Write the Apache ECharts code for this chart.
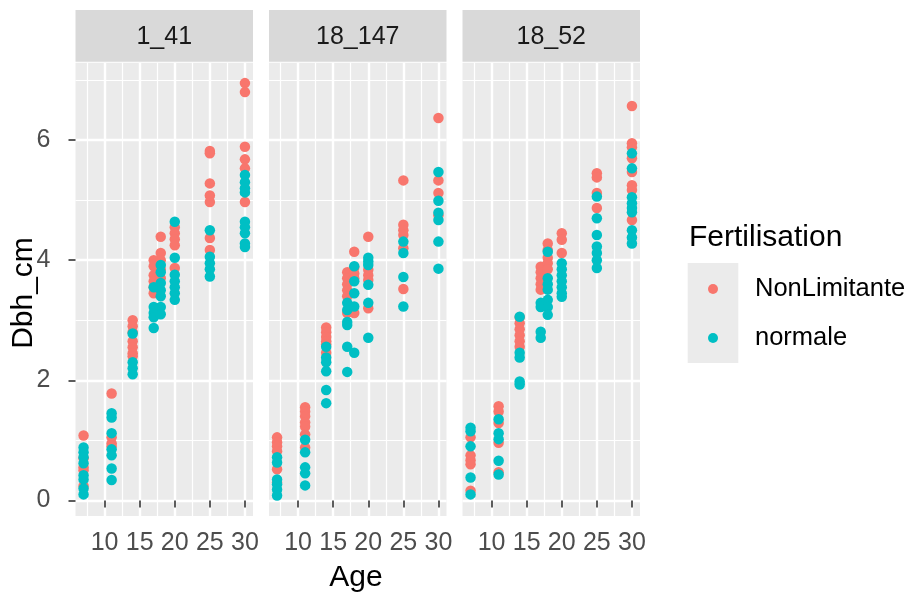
<!DOCTYPE html>
<html><head><meta charset="utf-8">
<script src="https://cdn.jsdelivr.net/npm/echarts@6/dist/echarts.min.js"></script>
<style>html,body{margin:0;padding:0;background:#fff}#c{width:906px;height:598px}</style>
</head><body><div id="c"></div>
<script>
const panels = ['1_41', '18_147', '18_52'];
const groups = ['NonLimitante', 'normale'];
const colors = ['#F8766D', '#00BFC4'];
const ages = [7, 11, 14, 17, 18, 20, 25, 30];
const xTicks = [10, 15, 20, 25, 30];
const xMinor = [7.5, 12.5, 17.5, 22.5, 27.5];
const yTicks = [0, 2, 4, 6];
const yMinor = [1, 3, 5, 7];

// Dbh_cm values per age (ages order above)
const p1_NonLimitante = [
  [1.08, 0.7, 0.55, 0.5, 0.24],
  [1.78, 1.05, 0.95, 0.9],
  [3.0, 2.9, 2.8, 2.65, 2.55, 2.45, 2.4],
  [4.0, 3.9, 3.75, 3.65, 3.55, 3.45],
  [4.39, 4.12, 4.0, 3.85, 3.7],
  [4.55, 4.45, 4.35, 4.25, 3.87],
  [5.82, 5.78, 5.28, 5.08, 4.97, 4.37, 4.17],
  [6.95, 6.8, 5.89, 5.68, 5.53, 4.97]
];
const p1_normale = [
  [0.88, 0.8, 0.72, 0.62, 0.42, 0.35, 0.2, 0.1],
  [1.45, 1.38, 1.12, 0.85, 0.75, 0.53, 0.34],
  [2.78, 2.3, 2.2, 2.1],
  [3.55, 3.22, 3.12, 3.05, 2.87],
  [3.92, 3.8, 3.62, 3.5, 3.4, 3.22, 3.1],
  [4.64, 4.04, 3.76, 3.65, 3.55, 3.45, 3.34],
  [4.5, 4.06, 3.95, 3.85, 3.73],
  [5.42, 5.3, 5.2, 5.13, 4.64, 4.55, 4.45, 4.28, 4.22]
];
const p2_NonLimitante = [
  [1.05, 0.97, 0.9, 0.82, 0.52, 0.3],
  [1.55, 1.48, 1.4, 1.3, 1.23, 1.1, 0.88],
  [2.88, 2.8, 2.72, 2.65, 2.6, 2.46],
  [3.8, 3.7, 3.6, 3.5, 3.4, 3.12],
  [4.14, 3.88, 3.78, 3.7, 3.12],
  [4.39, 3.84, 3.75, 3.67, 3.2],
  [5.33, 4.59, 4.5, 4.42, 4.2, 3.52],
  [6.37, 5.33, 5.12, 4.75]
];
const p2_normale = [
  [0.72, 0.63, 0.35, 0.27, 0.18, 0.08],
  [1.01, 0.8, 0.55, 0.45, 0.25],
  [2.56, 2.38, 2.3, 2.15, 1.84, 1.62],
  [3.29, 3.17, 2.97, 2.92, 2.56, 2.14],
  [3.9, 3.65, 3.45, 3.23, 2.46],
  [4.04, 3.98, 3.92, 3.59, 3.29, 2.71],
  [4.31, 4.12, 3.72, 3.23],
  [5.47, 4.99, 4.79, 4.67, 4.31, 3.86]
];
const p3_NonLimitante = [
  [1.05, 0.75, 0.67, 0.6, 0.16],
  [1.57, 1.48, 1.29, 0.96, 0.47],
  [3.05, 2.95, 2.85, 2.75, 2.65, 2.56],
  [3.89, 3.8, 3.7, 3.6, 3.51],
  [4.28, 4.17, 4.04, 3.95, 3.85],
  [4.45, 4.34, 4.12],
  [5.45, 5.38, 5.12, 4.87],
  [6.57, 5.95, 5.88, 5.7, 5.47, 5.25, 5.17, 4.67]
];
const p3_normale = [
  [1.21, 1.15, 0.9, 0.38, 0.1],
  [1.35, 1.12, 1.02, 0.66, 0.43],
  [3.06, 2.46, 2.38, 1.98, 1.93],
  [3.29, 3.22, 2.81, 2.71],
  [4.14, 3.7, 3.6, 3.51, 3.34, 3.22, 3.09],
  [3.95, 3.85, 3.75, 3.65, 3.55, 3.45, 3.39],
  [5.06, 4.7, 4.42, 4.23, 4.12, 4.0, 3.87],
  [5.78, 5.53, 5.05, 4.95, 4.87, 4.8, 4.5, 4.38, 4.28]
];

const panelData = [
  [p1_NonLimitante, p1_normale],
  [p2_NonLimitante, p2_normale],
  [p3_NonLimitante, p3_normale]
];

const FONT = '"Liberation Sans", Arial, sans-serif';
const gridLeft = [75.5, 269, 462.5];
const gridW = 177.5, gridTop = 62.7, gridH = 453.3;
const xMin = 5.85, xMax = 31.15, yMin = -0.26, yMax = 7.29;

function toPoints(byAge) {
  const pts = [];
  byAge.forEach((vals, i) => vals.forEach(v => pts.push([ages[i], v])));
  return pts;
}

const grid = [], xAxis = [], yAxis = [], series = [], graphic = [];
panels.forEach((p, i) => {
  grid.push({left: gridLeft[i], top: gridTop, width: gridW, height: gridH,
    show: true, backgroundColor: '#EBEBEB', borderWidth: 0, containLabel: false});
  xAxis.push({gridIndex: i, type: 'value', min: xMin, max: xMax,
    axisLine: {show: false},
    axisTick: {show: true, customValues: xTicks, length: 7, lineStyle: {color: '#333333', width: 1.6}},
    axisLabel: {show: true, customValues: xTicks, margin: 15, fontSize: 25, color: '#4D4D4D', fontFamily: FONT},
    splitLine: {show: true, lineStyle: {color: '#FFFFFF', width: 2.4}}, z: 1});
  xAxis.push({gridIndex: i, type: 'value', min: xMin, max: xMax,
    axisLine: {show: false},
    axisTick: {show: false, customValues: xMinor},
    axisLabel: {show: false, customValues: xMinor},
    splitLine: {show: true, lineStyle: {color: '#FFFFFF', width: 1.2}}, z: 0});
  yAxis.push({gridIndex: i, type: 'value', min: yMin, max: yMax,
    axisLine: {show: false},
    axisTick: {show: i === 0, customValues: yTicks, length: 7, lineStyle: {color: '#333333', width: 1.6}},
    axisLabel: {show: i === 0, customValues: yTicks, margin: 25, fontSize: 25, color: '#4D4D4D', fontFamily: FONT},
    splitLine: {show: true, lineStyle: {color: '#FFFFFF', width: 2.4}}, z: 1});
  yAxis.push({gridIndex: i, type: 'value', min: yMin, max: yMax,
    axisLine: {show: false},
    axisTick: {show: false, customValues: yMinor},
    axisLabel: {show: false, customValues: yMinor},
    splitLine: {show: true, lineStyle: {color: '#FFFFFF', width: 1.2}}, z: 0});

  groups.forEach((g, k) => {
    series.push({type: 'scatter', name: g, xAxisIndex: 2 * i, yAxisIndex: 2 * i,
      data: toPoints(panelData[i][k]), symbol: 'circle', symbolSize: 10.5,
      itemStyle: {color: colors[k], opacity: 1}, emphasis: {disabled: true}, z: 3});
  });

  graphic.push({type: 'rect', silent: true, z: 5,
    shape: {x: gridLeft[i], y: 10, width: gridW, height: 51.7},
    style: {fill: '#D9D9D9'}});
  graphic.push({type: 'text', silent: true, z: 6,
    x: gridLeft[i] + gridW / 2, y: 37.5,
    style: {text: p, fill: '#1A1A1A', font: '25px ' + FONT, align: 'center', verticalAlign: 'middle'}});
});

graphic.push({type: 'text', silent: true, x: 356, y: 577.5,
  style: {text: 'Age', fill: '#000', font: '30px ' + FONT, align: 'center', verticalAlign: 'middle'}});
graphic.push({type: 'text', silent: true, x: 24, y: 293, rotation: Math.PI / 2,
  style: {text: 'Dbh_cm', fill: '#000', font: '30px ' + FONT, align: 'center', verticalAlign: 'middle'}});
graphic.push({type: 'text', silent: true, x: 689, y: 237.5,
  style: {text: 'Fertilisation', fill: '#000', font: '30px ' + FONT, align: 'left', verticalAlign: 'middle'}});
graphic.push({type: 'rect', silent: true, z: 0,
  shape: {x: 687.7, y: 263, width: 50.6, height: 100},
  style: {fill: '#EBEBEB'}});

const chart = echarts.init(document.getElementById('c'), null, {renderer: 'canvas'});
chart.setOption({
  animation: false,
  backgroundColor: '#FFFFFF',
  grid, xAxis, yAxis, series, graphic,
  legend: {orient: 'vertical', left: 703, top: 271, itemWidth: 10, itemHeight: 10, itemGap: 23,
    icon: 'circle', selectedMode: false, data: groups,
    textStyle: {fontSize: 25.5, color: '#000', fontFamily: FONT, padding: [0, 0, 0, 32]}, z: 4}
});
</script>
</body></html>
